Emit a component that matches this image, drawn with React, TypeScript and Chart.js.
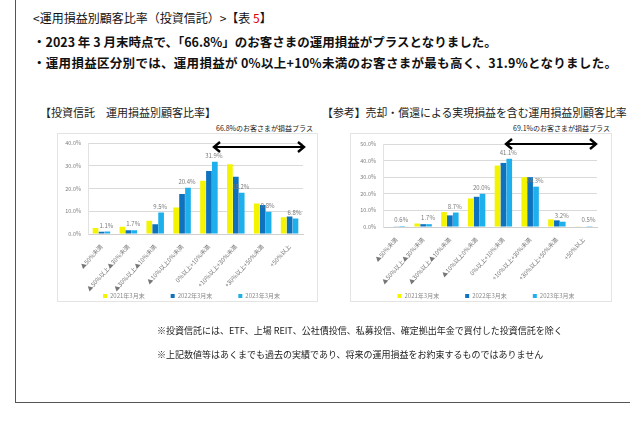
import React, { useEffect, useRef } from "react";
import { Chart, registerables } from "chart.js";

Chart.register(...registerables);

const FONT = '"Noto Sans CJK JP", "Noto Sans", sans-serif';

const categories = [
  "▲50%未満",
  "▲50%以上▲30%未満",
  "▲30%以上▲10%未満",
  "▲10%以上0%未満",
  "0%以上+10%未満",
  "+10%以上+30%未満",
  "+30%以上+50%未満",
  "+50%以上",
];
const seriesLabels = ["2021年3月末", "2022年3月末", "2023年3月末"];
const seriesColors = ["#F4F400", "#0F72BE", "#1DB0EC"];

const leftTicks = [0, 10, 20, 30, 40];
const left2021 = [2.6, 3.2, 5.8, 11.7, 23.5, 30.8, 13.5, 7.4];
const left2022 = [1.0, 1.7, 4.3, 17.6, 27.8, 25.2, 12.8, 7.7];
const left2023 = [1.1, 1.7, 9.5, 20.4, 31.9, 18.2, 9.8, 6.8];

const rightTicks = [0, 10, 20, 30, 40, 50];
const right2021 = [0.3, 2.1, 9.0, 17.2, 37.0, 30.0, 4.6, 0.2];
const right2022 = [0.4, 1.7, 7.0, 18.2, 38.6, 30.0, 4.0, 0.3];
const right2023 = [0.6, 1.7, 8.7, 20.0, 41.1, 24.3, 3.2, 0.5];

const valueLabels = {
  id: "valueLabels",
  afterDatasetsDraw(chart: any) {
    const ctx = chart.ctx;
    const meta = chart.getDatasetMeta(2);
    const vals = chart.data.datasets[2].data as number[];
    ctx.save();
    ctx.font = `6px ${FONT}`;
    ctx.fillStyle = "#7a7a7a";
    ctx.textAlign = "center";
    ctx.textBaseline = "bottom";
    meta.data.forEach((bar: any, i: number) => {
      ctx.fillText(vals[i].toFixed(1) + "%", bar.x - 1, bar.y - 3);
    });
    ctx.restore();
  },
};

const miniLegend = {
  id: "miniLegend",
  afterDraw(chart: any) {
    const { ctx, chartArea } = chart;
    const y = chart.height - 7;
    ctx.save();
    ctx.font = `6px ${FONT}`;
    ctx.textBaseline = "middle";
    ctx.textAlign = "left";
    const box = 4;
    const gap = 26;
    const items = chart.data.datasets.map((d: any) => ({
      label: d.label as string,
      color: d.backgroundColor as string,
      w: ctx.measureText(d.label).width,
    }));
    const total =
      items.reduce((s: number, it: any) => s + box + 3 + it.w, 0) +
      gap * (items.length - 1);
    let x = (chartArea.left + chartArea.right) / 2 - total / 2 - 4;
    items.forEach((it: any) => {
      ctx.fillStyle = it.color;
      ctx.fillRect(x, y - box / 2, box, box);
      x += box + 3;
      ctx.fillStyle = "#8a8a8a";
      ctx.fillText(it.label, x, y);
      x += it.w + gap;
    });
    ctx.restore();
  },
};

type Spec = {
  series: number[][];
  ticks: number[];
  left: number;
  top: number;
  width: number;
  height: number;
  yWidth: number;
  padTop: number;
  padRight: number;
  xHeight: number;
};

function BarChart({ spec }: { spec: Spec }) {
  const ref = useRef<HTMLCanvasElement>(null);
  useEffect(() => {
    const chart = new Chart(ref.current as HTMLCanvasElement, {
      type: "bar",
      data: {
        labels: categories,
        datasets: spec.series.map((d, i) => ({
          label: seriesLabels[i],
          data: d,
          backgroundColor: seriesColors[i],
          categoryPercentage: 0.66,
          barPercentage: 0.96,
        })),
      },
      options: {
        animation: false,
        responsive: false,
        maintainAspectRatio: false,
        layout: {
          padding: { top: spec.padTop, right: spec.padRight, left: 0, bottom: 0 },
        },
        plugins: { legend: { display: false }, tooltip: { enabled: false } },
        scales: {
          x: {
            grid: { display: false },
            border: { color: "#cfcfcf" },
            ticks: {
              autoSkip: false,
              maxRotation: 48,
              minRotation: 48,
              padding: 1,
              color: "#777",
              font: { size: 6, family: FONT },
            },
            afterFit: (s: any) => {
              s.height = spec.xHeight;
            },
          },
          y: {
            min: spec.ticks[0],
            max: spec.ticks[spec.ticks.length - 1],
            afterBuildTicks: (s: any) => {
              s.ticks = spec.ticks.map((v) => ({ value: v }));
            },
            ticks: {
              padding: 7,
              color: "#808080",
              font: { size: 5.5, family: FONT },
              callback: (v: any) => Number(v).toFixed(1) + "%",
            },
            grid: { color: "#dadada", drawTicks: false },
            border: { display: true, color: "#e2e2e2" },
            afterFit: (s: any) => {
              s.width = spec.yWidth;
            },
          },
        },
      } as any,
      plugins: [valueLabels, miniLegend],
    });
    return () => chart.destroy();
  }, []);
  return (
    <canvas
      ref={ref}
      width={spec.width}
      height={spec.height}
      style={{
        position: "absolute",
        left: spec.left,
        top: spec.top,
        width: spec.width,
        height: spec.height,
      }}
    />
  );
}

const leftSpec: Spec = {
  series: [left2021, left2022, left2023],
  ticks: leftTicks,
  left: 57,
  top: 133,
  width: 262,
  height: 170,
  yWidth: 31,
  padTop: 10,
  padRight: 16,
  xHeight: 69,
};

const rightSpec: Spec = {
  series: [right2021, right2022, right2023],
  ticks: rightTicks,
  left: 350,
  top: 133,
  width: 280,
  height: 170,
  yWidth: 33,
  padTop: 11,
  padRight: 33,
  xHeight: 76,
};

function Text({
  x,
  y,
  size,
  bold,
  color,
  spacing,
  children,
}: {
  x: number;
  y: number;
  size: number;
  bold?: boolean;
  color?: string;
  spacing?: number;
  children: any;
}) {
  return (
    <div
      style={{
        position: "absolute",
        left: x,
        top: y - size / 2,
        fontSize: size,
        lineHeight: `${size}px`,
        fontWeight: bold ? 700 : 400,
        color: color || "#111",
        whiteSpace: "nowrap",
        letterSpacing: spacing || 0,
        fontFamily: FONT,
      }}
    >
      {children}
    </div>
  );
}

function Arrow({ x1, x2, y }: { x1: number; x2: number; y: number }) {
  return (
    <svg
      style={{ position: "absolute", left: 0, top: 0, overflow: "visible" }}
      width={630}
      height={421}
    >
      <line x1={x1 + 1} y1={y} x2={x2 - 1} y2={y} stroke="#000" strokeWidth={2} />
      <polyline
        points={`${x1 + 7},${y - 5} ${x1 + 1},${y} ${x1 + 7},${y + 5}`}
        fill="none"
        stroke="#000"
        strokeWidth={2.4}
      />
      <polyline
        points={`${x2 - 7},${y - 5} ${x2 - 1},${y} ${x2 - 7},${y + 5}`}
        fill="none"
        stroke="#000"
        strokeWidth={2.4}
      />
    </svg>
  );
}

export default function App() {
  const frameBottom = 402;
  return (
    <div
      style={{
        position: "absolute",
        left: 0,
        top: 0,
        width: 630,
        height: 421,
        overflow: "hidden",
        background: "#fff",
        fontFamily: FONT,
      }}
    >
      <div style={{ position: "absolute", left: 15, top: 0, width: 1, height: frameBottom, background: "#555" }} />
      <div style={{ position: "absolute", left: 15, top: frameBottom, width: 615, height: 1, background: "#555" }} />

      <Text x={33} y={18} size={12}>
        &lt;運用損益別顧客比率（投資信託）&gt;【表 <span style={{ color: "#E00000" }}>5</span>】
      </Text>
      <Text x={33} y={42} size={12.5} bold>
        ・2023 年 3 月末時点で、「66.8%」のお客さまの運用損益がプラスとなりました。
      </Text>
      <Text x={33} y={63} size={12.5} bold spacing={0.3}>
        ・運用損益区分別では、運用損益が 0%以上+10%未満のお客さまが最も高く、31.9%となりました。
      </Text>

      <Text x={40} y={112} size={11} color="#222">
        【投資信託　運用損益別顧客比率】
      </Text>
      <Text x={322} y={112} size={10.9} color="#222">
        【参考】売却・償還による実現損益を含む運用損益別顧客比率
      </Text>

      <div style={{ position: "absolute", left: 57, top: 133, width: 261, height: 169, border: "1px solid #e4e4e4", boxSizing: "border-box" }} />
      <div style={{ position: "absolute", left: 350, top: 133, width: 262, height: 169, border: "1px solid #e4e4e4", boxSizing: "border-box" }} />

      <BarChart spec={leftSpec} />
      <BarChart spec={rightSpec} />

      <Text x={216} y={128} size={7} color="#222">
        66.8%のお客さまが損益プラス
      </Text>
      <Text x={513} y={128} size={7} color="#222">
        69.1%のお客さまが損益プラス
      </Text>

      <Arrow x1={213} x2={305} y={147} />
      <Arrow x1={505} x2={597} y={144} />

      <Text x={157} y={330} size={9} color="#222">
        ※投資信託には、ETF、上場 REIT、公社債投信、私募投信、確定拠出年金で買付した投資信託を除く
      </Text>
      <Text x={157} y={354} size={9} color="#222">
        ※上記数値等はあくまでも過去の実績であり、将来の運用損益をお約束するものではありません
      </Text>
    </div>
  );
}
